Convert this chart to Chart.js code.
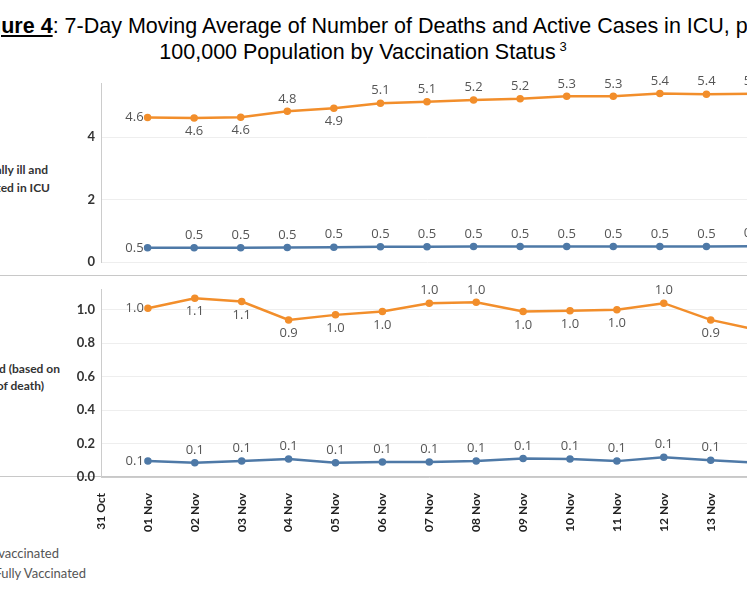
<!DOCTYPE html>
<html><head><meta charset="utf-8">
<script src="https://cdn.jsdelivr.net/npm/chart.js@4"></script>
<style>
body{margin:0;width:747px;height:598px;overflow:hidden;background:#fff;position:relative;font-family:Lato,sans-serif}
.t{position:absolute;font-family:"Liberation Sans",Arial,sans-serif;font-size:21.5px;color:#000;white-space:nowrap}
.rl{position:absolute;font-weight:bold;font-size:12px;color:#333;white-space:nowrap;text-align:right}
.lg{position:absolute;font-size:13px;color:#555;white-space:nowrap;text-align:right}
.hl{position:absolute;left:0;width:747px;height:1px;background:#c8c8c8}
canvas{position:absolute}
</style></head><body>
<div class="t" style="left:-31px;top:14px"><b><u>Figure 4</u></b>: 7-Day Moving Average of Number of Deaths and Active Cases in ICU, per</div>
<div class="t" style="left:0;width:726px;top:39px;text-align:center">100,000 Population by Vaccination Status<sup style="font-size:13px"> 3</sup></div>
<div class="rl" style="right:699px;top:162px">Critically ill and</div>
<div class="rl" style="right:697px;top:180px">admitted in ICU</div>
<div class="rl" style="right:687px;top:361px">Died (based on</div>
<div class="rl" style="right:703px;top:378px">date of death)</div>
<div class="lg" style="right:688px;top:545px">Unvaccinated</div>
<div class="lg" style="right:661px;top:565px">Fully Vaccinated</div>
<div class="hl" style="top:275px"></div>
<div class="hl" style="top:476px"></div>
<canvas id="c1" style="left:0;top:70px"></canvas>
<canvas id="c2" style="left:0;top:276px"></canvas>
<script>
const categories=["31 Oct","01 Nov","02 Nov","03 Nov","04 Nov","05 Nov","06 Nov","07 Nov","08 Nov","09 Nov","10 Nov","11 Nov","12 Nov","13 Nov","14 Nov"];
const icuUnvax=[null,4.62,4.61,4.63,4.82,4.92,5.08,5.13,5.18,5.22,5.3,5.3,5.39,5.37,5.38];
const icuVax=[null,0.46,0.46,0.46,0.47,0.48,0.49,0.49,0.5,0.5,0.5,0.5,0.5,0.5,0.51];
const deathUnvax=[null,1.01,1.07,1.05,0.94,0.97,0.99,1.04,1.045,0.99,0.995,1.0,1.04,0.94,0.88];
const deathVax=[null,0.095,0.085,0.095,0.107,0.085,0.09,0.09,0.095,0.11,0.107,0.095,0.118,0.1,0.085];
const icuUnvaxPos="-lbbabaaaaaaaa";
const icuVaxPos="-laaaaaaaaaaaa";
const deathUnvaxPos="-lbbbbbaabbbab";
const deathVaxPos="-laaaaaaaaaaaa";
const ORANGE="#F28E2B",BLUE="#4E79A7";
const labelPlugin={id:"lbl",afterDatasetsDraw(ch){const ctx=ch.ctx;ctx.save();ctx.font="13px 'Open Sans',sans-serif";ctx.fillStyle="#555";
ch.data.datasets.forEach((ds,di)=>{const meta=ch.getDatasetMeta(di);ds.data.forEach((v,i)=>{if(v==null)return;const p=meta.data[i];const pos=ds.pos[i];let x=p.x,y=p.y;
if(pos==="l"){ctx.textAlign="right";ctx.textBaseline="middle";x-=4;}else if(pos==="b"){ctx.textAlign="center";ctx.textBaseline="top";y+=7;}else{ctx.textAlign="center";ctx.textBaseline="bottom";y-=6;}
ctx.fillText(v.toFixed(1),x,y);});});ctx.restore();}};
function ds(data,color,pos){return{data,pos,borderColor:color,backgroundColor:color,borderWidth:2.5,pointRadius:2.5,pointHoverRadius:2.5,tension:0,spanGaps:false};}
function yAxis(max,step){return{min:0,max,afterFit(s){s.width=101;},afterBuildTicks(s){s.ticks=s.ticks.filter(t=>Math.abs(t.value/step-Math.round(t.value/step))<1e-6);},
ticks:{stepSize:step,font:{family:"Lato",weight:"bold",size:13},color:"#333",padding:6,callback:v=>step<1?v.toFixed(1):v},
grid:{color:"#eee",drawTicks:false},border:{color:"#ccc"}};}
const common={responsive:false,animation:false,plugins:{legend:{display:false},tooltip:{enabled:false}}};
const c1=document.getElementById("c1");c1.width=760;c1.height=206;
new Chart(c1,{type:"line",data:{labels:categories,datasets:[ds(icuUnvax,ORANGE,icuUnvaxPos),ds(icuVax,BLUE,icuVaxPos)]},
options:{...common,layout:{padding:{top:5,right:7}},scales:{x:{display:false},y:yAxis(5.7,2)}},plugins:[labelPlugin]});
const c2=document.getElementById("c2");c2.width=780;c2.height=269;
new Chart(c2,{type:"line",data:{labels:categories,datasets:[ds(deathUnvax,ORANGE,deathUnvaxPos),ds(deathVax,BLUE,deathVaxPos)]},
options:{...common,layout:{padding:{right:0}},scales:{x:{afterFit(s){s.height=68;},afterUpdate(s){},ticks:{minRotation:90,maxRotation:90,font:{family:"Lato",weight:"bold",size:12},color:"#222",padding:8},grid:{display:false},border:{color:"#ccc"}},
y:yAxis(1.12,0.2)}},plugins:[labelPlugin,{id:"fitRight",beforeLayout(ch){}}]});
</script></body></html>
